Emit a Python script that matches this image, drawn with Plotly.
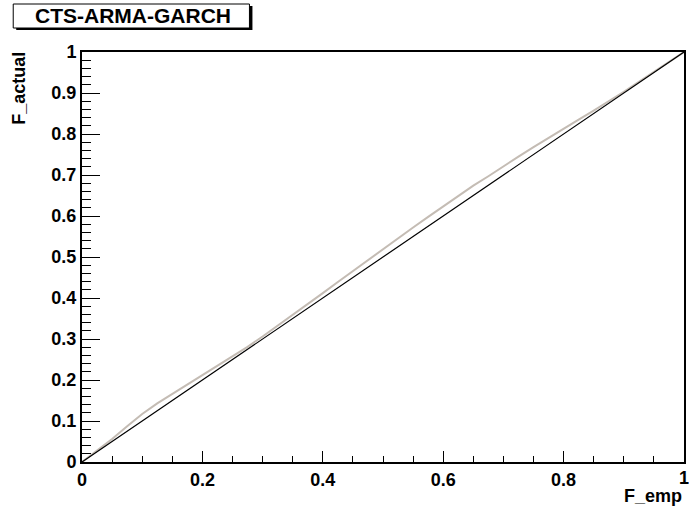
import plotly.graph_objects as go

f_emp = [0, 0.025, 0.05, 0.075, 0.1, 0.125, 0.15, 0.175, 0.2, 0.225, 0.25, 0.275, 0.3,
         0.325, 0.35, 0.375, 0.4, 0.425, 0.45, 0.475, 0.5, 0.525, 0.55, 0.575, 0.6,
         0.625, 0.65, 0.675, 0.7, 0.725, 0.75, 0.775, 0.8, 0.825, 0.85, 0.875, 0.9,
         0.925, 0.95, 0.975, 1.0]
f_actual = [0, 0.028, 0.056, 0.087, 0.117, 0.143, 0.166, 0.189, 0.212, 0.234, 0.257,
            0.281, 0.306, 0.332, 0.358, 0.385, 0.412, 0.439, 0.466, 0.493, 0.519, 0.546,
            0.572, 0.598, 0.624, 0.650, 0.674, 0.697, 0.722, 0.745, 0.768, 0.791, 0.813,
            0.835, 0.857, 0.879, 0.903, 0.927, 0.951, 0.9755, 1.0]
diag_x = [0, 1]
diag_y = [0, 1]

x_tickvals = [0, 0.2, 0.4, 0.6, 0.8, 1.0]
x_ticktext = ["0", "0.2", "0.4", "0.6", "0.8", "1"]
y_tickvals = [0, 0.1, 0.2, 0.3, 0.4, 0.5, 0.6, 0.7, 0.8, 0.9, 1.0]
y_ticktext = ["0", "0.1", "0.2", "0.3", "0.4", "0.5", "0.6", "0.7", "0.8", "0.9", "1"]

title_text = "CTS-ARMA-GARCH"
x_title = "F_emp"
y_title = "F_actual"

W, H = 689, 510
L, R, T, B = 82, 3, 52, 48
PW, PH = W - L - R, H - T - B

def px(x):
    return (x - L) / PW

def py(y):
    return (H - B - y) / PH

font = "Liberation Sans, Arial, sans-serif"

fig = go.Figure()
fig.add_trace(go.Scatter(x=f_emp, y=f_actual, mode="lines",
                         line=dict(color="#c4bcb4", width=2), showlegend=False))
fig.add_trace(go.Scatter(x=diag_x, y=diag_y, mode="lines",
                         line=dict(color="black", width=1.2), showlegend=False))

axis_common = dict(
    showgrid=False, zeroline=False, showline=True, linecolor="black", linewidth=2,
    mirror=True, ticks="inside", tickcolor="black", tickwidth=1,
    tickfont=dict(family=font, size=18, color="black", weight="bold"),
    tickmode="array",
)
fig.update_xaxes(range=[0, 1], tickvals=x_tickvals, ticktext=x_ticktext, ticklen=11,
                 minor=dict(dtick=0.05, tick0=0, ticks="inside", ticklen=6, tickcolor="black"),
                 **axis_common)
fig.update_yaxes(range=[0, 1], tickvals=y_tickvals, ticktext=y_ticktext, ticklen=18,
                 minor=dict(dtick=0.02, tick0=0, ticks="inside", ticklen=9, tickcolor="black"),
                 **axis_common)

shapes = [
    dict(type="rect", xref="paper", yref="paper", x0=px(16), x1=px(253), y0=py(30), y1=py(6),
         fillcolor="black", line=dict(width=0), layer="above"),
    dict(type="rect", xref="paper", yref="paper", x0=px(13), x1=px(250), y0=py(28), y1=py(4),
         fillcolor="white", line=dict(color="black", width=1), layer="above"),
]
annotations = [
    dict(text=title_text, xref="paper", yref="paper", x=px(133), y=py(16),
         xanchor="center", yanchor="middle", showarrow=False,
         font=dict(family=font, size=21, color="black", weight="bold")),
    dict(text=x_title, xref="paper", yref="paper", x=px(686), y=py(496),
         xanchor="right", yanchor="middle", showarrow=False,
         font=dict(family=font, size=18, color="black", weight="bold")),
    dict(text=y_title, xref="paper", yref="paper", x=px(18), y=py(50),
         xanchor="center", yanchor="top", textangle=-90, showarrow=False,
         font=dict(family=font, size=18, color="black", weight="bold")),
    # last x tick label, which plotly hides because it overflows the page edge
    dict(text=x_ticktext[-1], xref="x", yref="paper", x=x_tickvals[-1], y=py(478),
         xanchor="center", yanchor="middle", showarrow=False,
         font=dict(family=font, size=18, color="black", weight="bold")),
]

fig.update_layout(width=W, height=H, margin=dict(l=L, r=R, t=T, b=B),
                  paper_bgcolor="white", plot_bgcolor="white",
                  shapes=shapes, annotations=annotations, showlegend=False)

fig.write_html("out.html")
